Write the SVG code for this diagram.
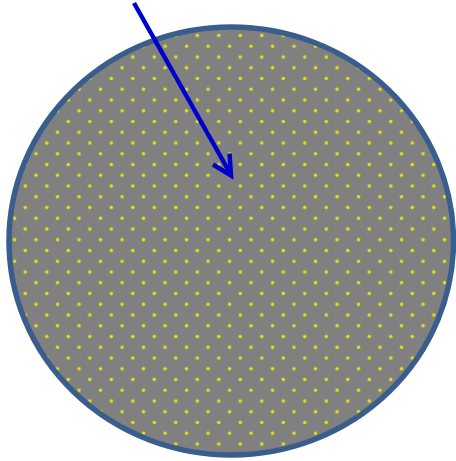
<svg xmlns="http://www.w3.org/2000/svg" width="456" height="461" viewBox="0 0 456 461">
  <style>
    .shape { fill: url(#dots); stroke: #395d8c; stroke-width: 5.5; }
    .conn { fill: none; stroke: #0000cc; stroke-width: 4.5; }
  </style>
  <defs>
    <pattern id="dots" patternUnits="userSpaceOnUse" x="19.925" y="180.625" width="21.5" height="21.5">
      <rect width="21.5" height="21.5" fill="#808080"/>
      <circle cx="5.375" cy="5.375" r="2" fill="#b8b842"/>
      <circle cx="5.375" cy="5.375" r="1.2" fill="#f2f200"/>
      <circle cx="16.125" cy="16.125" r="2" fill="#b8b842"/>
      <circle cx="16.125" cy="16.125" r="1.2" fill="#f2f200"/>
    </pattern>
  </defs>
  <g id="circle-node">
    <ellipse class="shape" cx="231.25" cy="241" rx="222.25" ry="214"/>
  </g>
  <g id="connectors">
    <path class="conn" d="M134,3 L230.5,174"/>
    <path class="conn" d="M213,164.5 L231,175.5 L229.5,153.5" stroke-linejoin="miter"/>
  </g>
</svg>
